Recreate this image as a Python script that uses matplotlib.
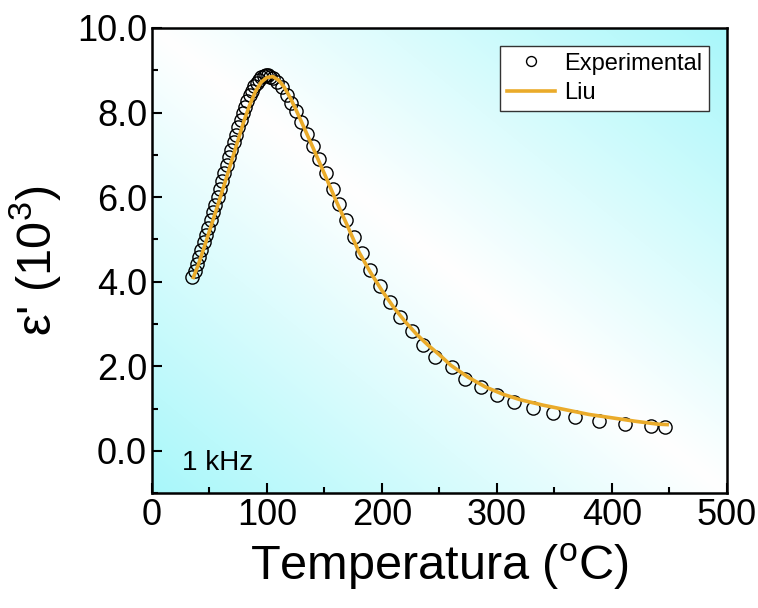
import numpy as np
import matplotlib
matplotlib.use("Agg")
from matplotlib import pyplot as plt

plt.rcParams['font.family'] = ['Liberation Sans', 'DejaVu Sans']
plt.rcParams['mathtext.fontset'] = 'custom'
plt.rcParams['mathtext.rm'] = 'Liberation Sans'
plt.rcParams['mathtext.it'] = 'Liberation Sans'

# experimental data (1 kHz), eps' in units of 10^3
temp_exp = [35, 37, 39, 41, 43, 45, 47, 49, 51, 53, 55, 57, 59, 61, 63, 65, 67, 69,
            71, 73, 75, 77, 79, 81, 83, 85, 87, 89, 91, 93, 95, 97, 99, 101, 103,
            105, 109, 113, 117, 121, 125, 130, 135, 140, 145, 151, 157, 163, 169,
            176, 183, 190, 198, 207, 216, 226, 236, 246, 261, 272, 286, 300, 315,
            331, 349, 368, 389, 411, 434, 446]
eps_exp = [4.10, 4.25, 4.42, 4.58, 4.75, 4.93, 5.10, 5.28, 5.46, 5.64, 5.82, 6.00,
           6.19, 6.37, 6.56, 6.75, 6.94, 7.12, 7.30, 7.48, 7.66, 7.83, 7.99, 8.14,
           8.28, 8.41, 8.52, 8.62, 8.71, 8.78, 8.83, 8.87, 8.89, 8.88, 8.85,
           8.82, 8.72, 8.60, 8.42, 8.22, 8.04, 7.78, 7.49, 7.21, 6.90, 6.57, 6.19,
           5.84, 5.46, 5.06, 4.68, 4.28, 3.90, 3.52, 3.16, 2.83, 2.50, 2.22, 1.98,
           1.70, 1.51, 1.32, 1.15, 1.01, 0.89, 0.80, 0.70, 0.63, 0.59, 0.56]

# Liu model fit
temp_liu = [36, 40, 45, 50, 55, 60, 65, 70, 75, 80, 85, 90, 95, 100, 105, 110, 115,
            120, 125, 130, 140, 150, 160, 170, 180, 190, 200, 210, 220, 230, 240,
            250, 260, 275, 290, 305, 320, 340, 360, 380, 400, 420, 440, 448]
eps_liu = [4.10, 4.38, 4.78, 5.20, 5.62, 6.05, 6.48, 6.92, 7.36, 7.80, 8.18, 8.50,
           8.72, 8.83, 8.85, 8.77, 8.60, 8.36, 8.08, 7.78, 7.17, 6.55, 5.92, 5.32,
           4.70, 4.22, 3.79, 3.40, 3.06, 2.76, 2.50, 2.27, 2.02, 1.74, 1.51, 1.34,
           1.21, 1.08, 0.97, 0.86, 0.78, 0.70, 0.63, 0.62]

fig = plt.figure(figsize=(7.58, 6.08), dpi=100)
ax = fig.add_axes([0.2005, 0.189, 0.7585, 0.765])

# background: cyan corners (bottom-left / top-right), white diagonal
u, v = np.meshgrid(np.linspace(0, 1, 300), np.linspace(0, 1, 300))
f = np.abs(u + v - 1)
cyan = np.array([0.66, 0.97, 0.98])
bg = 1 - f[..., None] * (1 - cyan)
ax.imshow(bg, extent=[0, 500, -1, 10], origin='lower', aspect='auto', zorder=0,
          interpolation='bilinear')

ax.plot(temp_exp, eps_exp, 'o', mfc='none', mec='black', mew=1.0, ms=9.5,
        label='Experimental', zorder=2)
ax.plot(temp_liu, eps_liu, '-', color='#eaab2a', lw=2.6, label='Liu', zorder=3)

ax.set_xlim(0, 500)
ax.set_ylim(-1, 10)
ax.set_xticks([0, 100, 200, 300, 400, 500])
ax.set_xticks([50, 150, 250, 350, 450], minor=True)
ax.set_yticks([0, 2, 4, 6, 8, 10])
ax.set_yticks([-1, 1, 3, 5, 7, 9], minor=True)
ax.set_yticklabels(['0.0', '2.0', '4.0', '6.0', '8.0', '10.0'])
ax.tick_params(which='both', direction='in', labelsize=26, width=1.5)
ax.tick_params(which='major', length=7)
ax.tick_params(which='minor', length=4)
for s in ax.spines.values():
    s.set_linewidth(1.8)

ax.set_xlabel('Temperatura ($^{\\mathrm{o}}$C)', fontsize=35, labelpad=6)
ax.set_ylabel("ε' (10$^3$)", fontsize=35, labelpad=10)

ax.text(0.052, 0.05, '1 kHz', transform=ax.transAxes, fontsize=20)

leg = ax.legend(loc='upper right', fontsize=17, frameon=True, fancybox=False,
                edgecolor='#333333', framealpha=1, borderpad=0.3,
                handlelength=2.0, handletextpad=0.4, labelspacing=0.3,
                borderaxespad=0.75, markerscale=0.75)
leg.get_frame().set_linewidth(1.0)

fig.savefig('out.png', dpi=100)
